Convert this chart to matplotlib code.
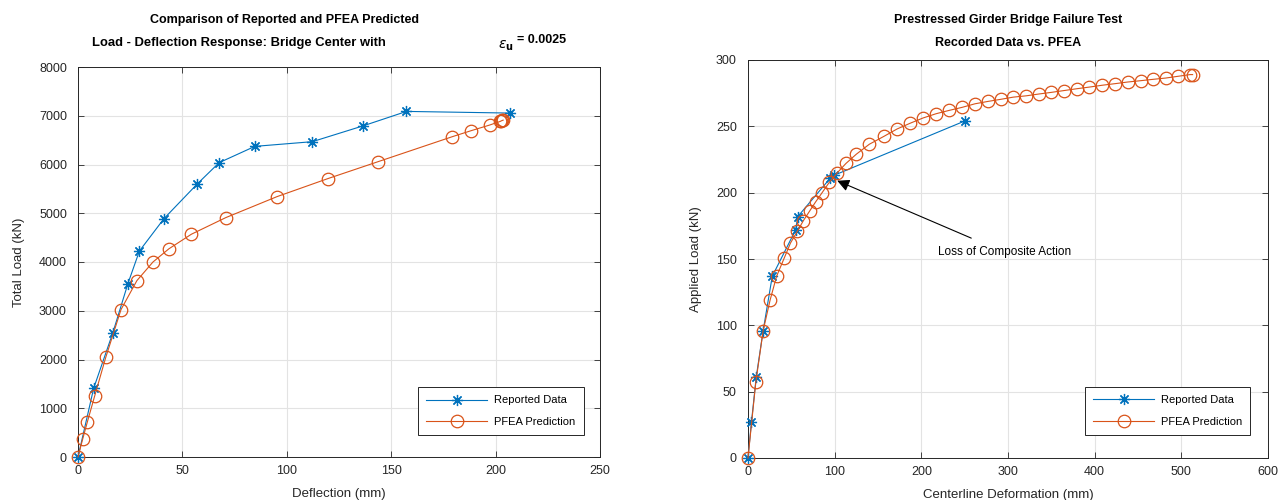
"""
Reported vs PFEA predicted load-deflection curves for two bridge tests.
"""

import matplotlib
matplotlib.use("Agg")
import matplotlib.pyplot as plt

plt.rcParams["font.family"] = ["Liberation Sans", "DejaVu Sans"]

# Left: bridge center load-deflection
rep_defl = [0, 7.5, 16.7, 23.9, 29.4, 41.2, 57.1, 67.6, 84.7, 112.2, 136.7, 157.3, 206.9]
rep_load = [0, 1410, 2551, 3557, 4225, 4891, 5601, 6038, 6372, 6468, 6795, 7089, 7055]
pfea_defl = [0, 2.2, 4.5, 8.0, 13.3, 20.6, 28.2, 35.9, 43.5, 54.3, 70.8, 95.3, 119.6,
             143.7, 179.2, 188.2, 197.1, 202.2, 202.7, 203.2, 203.6]
pfea_load = [0, 361, 723, 1254, 2045, 3025, 3618, 4000, 4270, 4570, 4911, 5341, 5710,
             6058, 6570, 6693, 6809, 6884, 6895, 6904, 6910]

# Right: prestressed girder bridge failure test
rec_def = [0, 4, 9.5, 17.5, 28, 55, 57.5, 95, 99, 250]
rec_load = [0, 27, 61, 96, 137, 172, 182, 211, 213, 254]
pf_def = [0, 9, 17.5, 25.5, 33, 42, 49, 57, 64, 71, 78, 85, 94, 103, 113, 125, 140,
          157, 172, 187, 202, 217, 232, 247, 262, 277, 292, 306, 321, 336, 350, 365,
          380, 394, 409, 424, 438, 453, 467, 482, 496, 510, 513]
pf_load = [0, 57, 96, 119, 137, 151, 162, 171, 179, 186, 193, 199.5, 208, 215, 222,
           229, 236.5, 242.5, 248, 252.3, 256.3, 259.5, 262, 264.3, 267, 268.8, 270.4,
           272, 273, 274.4, 275.6, 277, 278.4, 279.6, 281, 282.2, 283.4, 284.4, 285.4,
           286.4, 287.7, 289, 289]

BLUE = "#0072BD"
ORANGE = "#D95319"
DARK = "#262626"

fig = plt.figure(figsize=(12.83, 5), dpi=100)
ax1 = fig.add_axes([0.0608, 0.086, 0.4069, 0.78])
ax2 = fig.add_axes([0.583, 0.084, 0.4053, 0.796])


def style(ax):
    ax.grid(True, color="#e3e3e3", linewidth=0.8)
    ax.set_axisbelow(True)
    ax.tick_params(direction="in", top=True, right=True, length=4, width=0.6,
                   colors=DARK, labelsize=9)
    ax.tick_params(axis="y", pad=8)
    ax.tick_params(axis="x", pad=6)
    for s in ax.spines.values():
        s.set_color(DARK)
        s.set_linewidth(0.7)


def draw(ax, x1, y1, x2, y2):
    ax.plot(x1, y1, color=BLUE, marker=(8, 2, 0), markersize=8, markeredgewidth=0.9,
            linewidth=0.8, label="Reported Data", clip_on=False, zorder=3)
    ax.plot(x2, y2, color=ORANGE, marker="o", markersize=9, markerfacecolor="none",
            markeredgewidth=0.9, linewidth=0.8, label="PFEA Prediction", clip_on=False,
            zorder=3)


def legend(ax, anchor):
    leg = ax.legend(loc="lower right", bbox_to_anchor=anchor, fontsize=8,
                    fancybox=False, edgecolor=DARK, framealpha=1, handlelength=5.5,
                    borderpad=0.75, labelspacing=1.05, handletextpad=0.6)
    leg.get_frame().set_linewidth(0.7)


draw(ax1, rep_defl, rep_load, pfea_defl, pfea_load)
ax1.set_xlim(0, 250)
ax1.set_ylim(0, 8000)
ax1.set_xticks(range(0, 251, 50))
ax1.set_yticks(range(0, 8001, 1000))
style(ax1)
ax1.set_xlabel("Deflection (mm)", fontsize=9.5, color=DARK, labelpad=8)
ax1.set_ylabel("Total Load (kN)", fontsize=9.5, color=DARK, labelpad=10)
legend(ax1, (0.979, 0.041))

draw(ax2, rec_def, rec_load, pf_def, pf_load)
ax2.set_xlim(0, 600)
ax2.set_ylim(0, 300)
ax2.set_xticks(range(0, 601, 100))
ax2.set_yticks(range(0, 301, 50))
style(ax2)
ax2.set_xlabel("Centerline Deformation (mm)", fontsize=9.5, color=DARK, labelpad=8)
ax2.set_ylabel("Applied Load (kN)", fontsize=9.5, color=DARK, labelpad=10)
legend(ax2, (0.977, 0.043))

ax2.annotate("Loss of Composite Action", xy=(103, 209), xytext=(296, 155),
             fontsize=8.5, ha="center", va="center",
             arrowprops=dict(arrowstyle="-|>", color="black", lw=0.8,
                             mutation_scale=18, shrinkA=10, shrinkB=0))

# titles
fig.text(285 / 1283, 1 - 20 / 500, "Comparison of Reported and PFEA Predicted",
         ha="center", va="center", fontsize=9, fontweight="bold")
fig.text(92 / 1283, 1 - 43 / 500, "Load - Deflection Response: Bridge Center with",
         ha="left", va="center", fontsize=9.4, fontweight="bold")
fig.text(498 / 1283, 1 - 46 / 500, r"$\epsilon_\mathbf{u}$", ha="left", va="center",
         fontsize=10, fontweight="bold")
fig.text(517 / 1283, 1 - 40 / 500, "= 0.0025", ha="left", va="center",
         fontsize=9, fontweight="bold")
fig.text(1008 / 1283, 1 - 20 / 500, "Prestressed Girder Bridge Failure Test",
         ha="center", va="center", fontsize=9, fontweight="bold")
fig.text(1008 / 1283, 1 - 43 / 500, "Recorded Data vs. PFEA",
         ha="center", va="center", fontsize=9, fontweight="bold")

fig.savefig("out.png", dpi=100)
